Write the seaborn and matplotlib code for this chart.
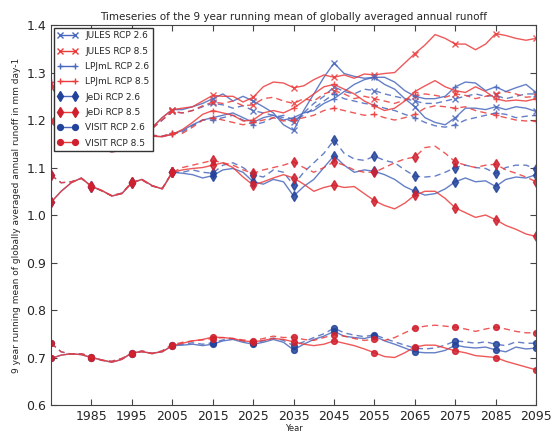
import numpy as np
import matplotlib
matplotlib.use("Agg")
import matplotlib.pyplot as plt
import seaborn as sns
from matplotlib.lines import Line2D

sns.set_style("ticks")
plt.rcParams['font.family'] = ['DejaVu Sans']

hist_years = np.arange(1975, 2005.1, 2.5)
fut_years = np.arange(2007.5, 2095.1, 2.5)
years = np.concatenate([hist_years, fut_years])

# historical part (shared by both RCPs); _a = solid runs, _b = dashed runs
jules_hist_a = [1.200, 1.198, 1.192, 1.196, 1.205, 1.200, 1.194, 1.190, 1.186, 1.182, 1.184, 1.205, 1.222]
jules_hist_b = [1.195, 1.196, 1.190, 1.194, 1.202, 1.198, 1.192, 1.188, 1.184, 1.180, 1.182, 1.200, 1.218]
lpj_hist_a = [1.280, 1.240, 1.200, 1.170, 1.150, 1.138, 1.133, 1.136, 1.148, 1.158, 1.166, 1.165, 1.170]
lpj_hist_b = [1.272, 1.236, 1.198, 1.168, 1.150, 1.140, 1.135, 1.138, 1.150, 1.160, 1.168, 1.166, 1.172]
jedi_hist_a = [1.027, 1.050, 1.068, 1.078, 1.060, 1.052, 1.040, 1.045, 1.068, 1.075, 1.062, 1.055, 1.090]
jedi_hist_b = [1.084, 1.068, 1.070, 1.077, 1.061, 1.051, 1.041, 1.046, 1.069, 1.074, 1.061, 1.056, 1.090]
visit_hist_a = [0.698, 0.705, 0.708, 0.706, 0.700, 0.695, 0.690, 0.696, 0.710, 0.712, 0.709, 0.712, 0.725]
visit_hist_b = [0.730, 0.712, 0.707, 0.708, 0.702, 0.694, 0.692, 0.698, 0.708, 0.714, 0.708, 0.714, 0.727]

# future part 2007.5 - 2095
jules26_a = [1.222, 1.228, 1.235, 1.245, 1.255, 1.24, 1.25, 1.24, 1.228, 1.215, 1.19, 1.178,
             1.22, 1.255, 1.29, 1.32, 1.298, 1.292, 1.288, 1.29, 1.275, 1.265, 1.245, 1.228,
             1.205, 1.195, 1.19, 1.205, 1.225, 1.225, 1.222, 1.228, 1.222, 1.228, 1.225, 1.218]
jules26_b = [1.215, 1.22, 1.228, 1.235, 1.232, 1.225, 1.23, 1.22, 1.215, 1.21, 1.205, 1.195,
             1.215, 1.235, 1.25, 1.27, 1.26, 1.255, 1.265, 1.262, 1.255, 1.25, 1.245, 1.24,
             1.235, 1.235, 1.24, 1.245, 1.25, 1.255, 1.25, 1.252, 1.245, 1.25, 1.255, 1.255]
jules85_a = [1.225, 1.228, 1.24, 1.252, 1.25, 1.25, 1.238, 1.248, 1.27, 1.28, 1.278, 1.268,
             1.272, 1.285, 1.295, 1.29, 1.295, 1.288, 1.297, 1.295, 1.298, 1.3, 1.32, 1.34,
             1.358, 1.38, 1.372, 1.36, 1.36, 1.348, 1.36, 1.382, 1.378, 1.372, 1.368, 1.372]
jules85_b = [1.215, 1.22, 1.23, 1.238, 1.235, 1.24, 1.23, 1.232, 1.245, 1.248, 1.24, 1.235,
             1.245, 1.24, 1.255, 1.262, 1.255, 1.245, 1.25, 1.245, 1.24, 1.235, 1.242, 1.25,
             1.255, 1.252, 1.248, 1.255, 1.252, 1.245, 1.25, 1.255, 1.26, 1.255, 1.248, 1.25]
lpj26_a = [1.178, 1.19, 1.2, 1.205, 1.21, 1.215, 1.205, 1.195, 1.205, 1.21, 1.20, 1.205,
           1.215, 1.22, 1.235, 1.245, 1.26, 1.275, 1.285, 1.29, 1.29, 1.28, 1.262, 1.25,
           1.245, 1.245, 1.25, 1.27, 1.28, 1.278, 1.262, 1.27, 1.26, 1.268, 1.275, 1.258]
lpj26_b = [1.175, 1.188, 1.2, 1.2, 1.205, 1.21, 1.2, 1.19, 1.195, 1.205, 1.21, 1.2,
           1.21, 1.225, 1.24, 1.255, 1.245, 1.24, 1.235, 1.232, 1.225, 1.22, 1.212, 1.205,
           1.195, 1.188, 1.185, 1.19, 1.2, 1.205, 1.21, 1.215, 1.212, 1.205, 1.208, 1.21]
lpj85_a = [1.18, 1.195, 1.212, 1.22, 1.215, 1.21, 1.198, 1.2, 1.215, 1.22, 1.215, 1.225,
           1.24, 1.255, 1.27, 1.275, 1.265, 1.255, 1.24, 1.23, 1.22, 1.225, 1.24, 1.26,
           1.272, 1.283, 1.27, 1.262, 1.258, 1.27, 1.26, 1.245, 1.24, 1.242, 1.24, 1.245]
lpj85_b = [1.172, 1.185, 1.2, 1.205, 1.2, 1.195, 1.19, 1.195, 1.2, 1.205, 1.198, 1.2,
           1.205, 1.21, 1.22, 1.225, 1.22, 1.215, 1.21, 1.212, 1.205, 1.2, 1.205, 1.212,
           1.225, 1.23, 1.228, 1.225, 1.228, 1.22, 1.215, 1.21, 1.205, 1.2, 1.198, 1.198]
jedi26_a = [1.088, 1.085, 1.078, 1.083, 1.095, 1.098, 1.09, 1.07, 1.065, 1.075, 1.07, 1.04,
            1.06, 1.075, 1.10, 1.125, 1.105, 1.09, 1.095, 1.092, 1.085, 1.075, 1.06, 1.05,
            1.042, 1.045, 1.055, 1.07, 1.078, 1.07, 1.072, 1.06, 1.075, 1.08, 1.078, 1.085]
jedi26_b = [1.09, 1.095, 1.09, 1.088, 1.105, 1.11, 1.10, 1.085, 1.08, 1.095, 1.09, 1.063,
            1.09, 1.11, 1.13, 1.158, 1.13, 1.118, 1.115, 1.124, 1.115, 1.11, 1.095, 1.082,
            1.08, 1.082, 1.09, 1.10, 1.105, 1.10, 1.098, 1.088, 1.10, 1.105, 1.105, 1.097]
jedi85_a = [1.095, 1.098, 1.10, 1.105, 1.11, 1.10, 1.08, 1.063, 1.07, 1.078, 1.085, 1.078,
            1.065, 1.05, 1.058, 1.063, 1.058, 1.06, 1.045, 1.03, 1.02, 1.013, 1.025, 1.042,
            1.05, 1.05, 1.035, 1.015, 1.005, 0.995, 1.0, 0.99, 0.978, 0.97, 0.96, 0.955]
jedi85_b = [1.10, 1.105, 1.11, 1.115, 1.11, 1.105, 1.095, 1.088, 1.095, 1.10, 1.105, 1.112,
            1.10, 1.09, 1.10, 1.112, 1.105, 1.095, 1.09, 1.09, 1.10, 1.11, 1.118, 1.122,
            1.142, 1.145, 1.13, 1.112, 1.105, 1.10, 1.105, 1.107, 1.095, 1.088, 1.08, 1.07]
visit26_a = [0.726, 0.728, 0.725, 0.728, 0.735, 0.738, 0.732, 0.728, 0.732, 0.738, 0.732, 0.716,
             0.728, 0.738, 0.745, 0.755, 0.745, 0.742, 0.740, 0.745, 0.735, 0.728, 0.720, 0.712,
             0.710, 0.710, 0.715, 0.726, 0.722, 0.720, 0.722, 0.716, 0.712, 0.722, 0.718, 0.720]
visit26_b = [0.728, 0.731, 0.728, 0.731, 0.737, 0.740, 0.735, 0.731, 0.735, 0.741, 0.736, 0.725,
             0.733, 0.742, 0.750, 0.762, 0.752, 0.747, 0.744, 0.748, 0.740, 0.733, 0.726, 0.720,
             0.718, 0.720, 0.726, 0.735, 0.733, 0.730, 0.733, 0.728, 0.725, 0.733, 0.730, 0.730]
visit85_a = [0.730, 0.735, 0.738, 0.743, 0.742, 0.740, 0.735, 0.733, 0.736, 0.740, 0.738, 0.733,
             0.728, 0.725, 0.728, 0.735, 0.730, 0.725, 0.718, 0.710, 0.702, 0.700, 0.710, 0.722,
             0.726, 0.726, 0.720, 0.714, 0.710, 0.704, 0.702, 0.700, 0.692, 0.686, 0.680, 0.674]
visit85_b = [0.732, 0.735, 0.737, 0.740, 0.742, 0.740, 0.737, 0.735, 0.740, 0.745, 0.742, 0.743,
             0.738, 0.736, 0.742, 0.748, 0.745, 0.740, 0.736, 0.738, 0.736, 0.742, 0.752, 0.762,
             0.766, 0.768, 0.766, 0.764, 0.760, 0.755, 0.760, 0.764, 0.760, 0.755, 0.752, 0.752]

blue = '#4a69bd'
red = '#ec3b3b'
blue_dark = '#23439a'
red_dark = '#d0202e'

models = [
    ('JULES', 'x', 4, jules_hist_a, jules_hist_b,
     [('2.6', blue, blue, jules26_a, jules26_b), ('8.5', red, red, jules85_a, jules85_b)]),
    ('LPJmL', '+', 5, lpj_hist_a, lpj_hist_b,
     [('2.6', blue, blue, lpj26_a, lpj26_b), ('8.5', red, red, lpj85_a, lpj85_b)]),
    ('JeDi', 'd', 5.5, jedi_hist_a, jedi_hist_b,
     [('2.6', blue, blue_dark, jedi26_a, jedi26_b), ('8.5', red, red_dark, jedi85_a, jedi85_b)]),
    ('VISIT', 'o', 4.2, visit_hist_a, visit_hist_b,
     [('2.6', blue, blue_dark, visit26_a, visit26_b), ('8.5', red, red_dark, visit85_a, visit85_b)]),
]

fig, ax = plt.subplots(figsize=(5.55, 4.32), dpi=100)

handles = []
for name, marker, ms, hist_a, hist_b, runs in models:
    for rcp, col, mcol, fut_a, fut_b in runs:
        for hist, fut, ls in [(hist_a, fut_a, '-'), (hist_b, fut_b, (0, (4.5, 3)))]:
            y = np.concatenate([hist, fut])
            sns.lineplot(x=years, y=y, ax=ax, color=col, linestyle=ls, lw=1.0, alpha=0.85,
                         marker=marker, markersize=ms, markevery=4, markerfacecolor=mcol,
                         markeredgecolor=mcol, markeredgewidth=1.0,
                         estimator=None, sort=False, errorbar=None)
        handles.append(Line2D([], [], color=col, lw=1.0, marker=marker, ms=ms, mfc=mcol, mec=mcol,
                              mew=1.0, label=f'{name} RCP {rcp}'))

leg = ax.legend(handles=handles, loc='upper left', fontsize=6.5, numpoints=2, frameon=True,
                fancybox=False, framealpha=1, edgecolor='#333333', borderaxespad=0.3,
                labelspacing=0.7, handlelength=2.3, borderpad=0.4)
leg.get_frame().set_linewidth(1.0)

ax.set_xlim(1975, 2095)
ax.set_ylim(0.6, 1.4)
ax.set_xticks(np.arange(1985, 2096, 10))
ax.set_yticks(np.arange(0.6, 1.41, 0.1))
ax.set_yticklabels([f'{v:.1f}' for v in np.arange(0.6, 1.41, 0.1)])
ax.tick_params(direction='in', top=True, right=True, labelsize=9, length=4, color='#444444')
for s in ax.spines.values():
    s.set_color('#444444')

ax.set_title('Timeseries of the 9 year running mean of globally averaged annual runoff', fontsize=7.5, pad=4)
ax.set_ylabel('9 year running mean of globally averaged annual runoff in mm day-1', fontsize=6.5)
ax.set_xlabel('Year', fontsize=6, labelpad=1)

plt.subplots_adjust(left=0.092, right=0.966, top=0.942, bottom=0.0625)
plt.savefig('out.png', dpi=100)
